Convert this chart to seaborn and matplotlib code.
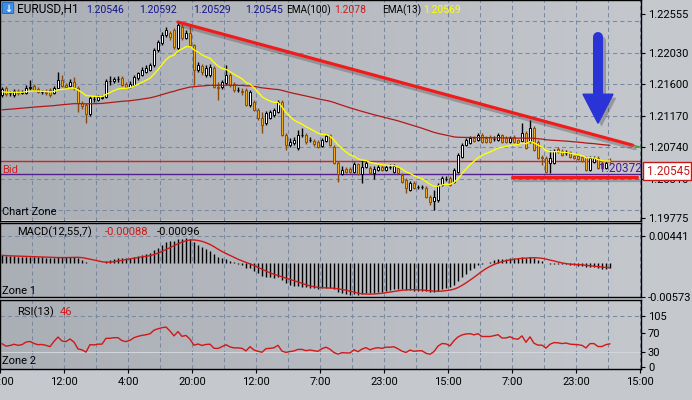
import numpy as np
import pandas as pd
import matplotlib
matplotlib.use("Agg")
import matplotlib.pyplot as plt
import seaborn as sns
import matplotlib.patheffects as pe
from matplotlib.colors import LinearSegmentedColormap
from matplotlib.patches import Rectangle, FancyBboxPatch

# ---------------- data (EURUSD H1) ----------------
open_ = [
    1.21450, 1.21545, 1.21477, 1.21450, 1.21504, 1.21477, 1.21477, 1.21545, 1.21573, 1.21532,
    1.21491, 1.21491, 1.21518, 1.21477, 1.21545, 1.21655, 1.21587, 1.21573, 1.21628, 1.21545,
    1.21340, 1.21313, 1.21189, 1.21395, 1.21381, 1.21408, 1.21422, 1.21641, 1.21641, 1.21669,
    1.21682, 1.21600, 1.21559, 1.21587, 1.21682, 1.21724, 1.21765, 1.21792, 1.21861, 1.22066,
    1.22162, 1.22272, 1.22299, 1.22340, 1.22093, 1.22381, 1.22230, 1.22299, 1.22135, 1.21792,
    1.21847, 1.21724, 1.21724, 1.21819, 1.21559, 1.21559, 1.21614, 1.21724, 1.21600, 1.21518,
    1.21504, 1.21518, 1.21313, 1.21354, 1.21244, 1.21134, 1.21066, 1.21134, 1.21176, 1.21217,
    1.21354, 1.20902, 1.20765, 1.20792, 1.20723, 1.20902, 1.20902, 1.20833, 1.20819, 1.20806,
    1.20751, 1.20819, 1.20902, 1.20737, 1.20518, 1.20367, 1.20436, 1.20436, 1.20395, 1.20504,
    1.20367, 1.20463, 1.20450, 1.20381, 1.20422, 1.20463, 1.20422, 1.20463, 1.20395, 1.20450,
    1.20354, 1.20285, 1.20148, 1.20244, 1.20189, 1.20189, 1.20176, 1.20052, 1.19998, 1.20011,
    1.20217, 1.20299, 1.20313, 1.20258, 1.20395, 1.20600, 1.20765, 1.20792, 1.20860, 1.20833,
    1.20902, 1.20860, 1.20874, 1.20847, 1.20833, 1.20902, 1.20860, 1.20806, 1.20874, 1.20833,
    1.20819, 1.20929, 1.20806, 1.20997, 1.20806, 1.20600, 1.20586, 1.20518, 1.20518, 1.20710,
    1.20682, 1.20655, 1.20669, 1.20614, 1.20614, 1.20600, 1.20600, 1.20422, 1.20532, 1.20586,
    1.20518, 1.20450, 1.20546]
high = [
    1.21559, 1.21573, 1.21504, 1.21532, 1.21532, 1.21518, 1.21587, 1.21655, 1.21600, 1.21559,
    1.21518, 1.21532, 1.21545, 1.21573, 1.21765, 1.21724, 1.21614, 1.21669, 1.21696, 1.21573,
    1.21367, 1.21340, 1.21436, 1.21436, 1.21450, 1.21450, 1.21669, 1.21710, 1.21696, 1.21710,
    1.21710, 1.21628, 1.21641, 1.21724, 1.21765, 1.21833, 1.21861, 1.21888, 1.22093, 1.22203,
    1.22313, 1.22381, 1.22326, 1.22367, 1.22450, 1.22422, 1.22340, 1.22408, 1.22148, 1.21902,
    1.21874, 1.21861, 1.21874, 1.21847, 1.21628, 1.21655, 1.21861, 1.21751, 1.21628, 1.21559,
    1.21545, 1.21545, 1.21518, 1.21381, 1.21271, 1.21217, 1.21230, 1.21244, 1.21271, 1.21381,
    1.21381, 1.20929, 1.20860, 1.20874, 1.20970, 1.20997, 1.20929, 1.20874, 1.20847, 1.20833,
    1.20860, 1.20915, 1.20915, 1.20765, 1.20545, 1.20477, 1.20463, 1.20463, 1.20532, 1.20518,
    1.20559, 1.20559, 1.20477, 1.20477, 1.20491, 1.20491, 1.20491, 1.20504, 1.20504, 1.20477,
    1.20381, 1.20313, 1.20271, 1.20271, 1.20217, 1.20217, 1.20203, 1.20080, 1.20148, 1.20244,
    1.20340, 1.20340, 1.20340, 1.20450, 1.20655, 1.20792, 1.20860, 1.20888, 1.20888, 1.20929,
    1.20929, 1.20888, 1.20902, 1.20888, 1.20929, 1.20915, 1.20888, 1.20888, 1.20902, 1.20847,
    1.21066, 1.20956, 1.21107, 1.21025, 1.20833, 1.20628, 1.20614, 1.20696, 1.20710, 1.20737,
    1.20710, 1.20696, 1.20682, 1.20628, 1.20628, 1.20614, 1.20614, 1.20614, 1.20614, 1.20614,
    1.20545, 1.20545, 1.20592]
low = [
    1.21422, 1.21436, 1.21436, 1.21422, 1.21450, 1.21463, 1.21463, 1.21518, 1.21504, 1.21477,
    1.21463, 1.21450, 1.21422, 1.21463, 1.21532, 1.21559, 1.21545, 1.21559, 1.21518, 1.21217,
    1.21258, 1.21066, 1.21162, 1.21354, 1.21367, 1.21395, 1.21408, 1.21587, 1.21614, 1.21628,
    1.21573, 1.21545, 1.21545, 1.21573, 1.21655, 1.21710, 1.21751, 1.21778, 1.21833, 1.22039,
    1.22135, 1.22244, 1.22203, 1.22080, 1.22066, 1.22203, 1.22217, 1.22107, 1.21587, 1.21765,
    1.21724, 1.21696, 1.21696, 1.21545, 1.21381, 1.21532, 1.21587, 1.21559, 1.21491, 1.21491,
    1.21450, 1.21299, 1.21285, 1.21230, 1.21107, 1.20929, 1.21039, 1.21121, 1.21148, 1.21203,
    1.20888, 1.20696, 1.20737, 1.20765, 1.20696, 1.20874, 1.20778, 1.20806, 1.20751, 1.20723,
    1.20737, 1.20806, 1.20751, 1.20504, 1.20258, 1.20354, 1.20381, 1.20381, 1.20381, 1.20354,
    1.20244, 1.20450, 1.20367, 1.20299, 1.20408, 1.20408, 1.20408, 1.20436, 1.20381, 1.20367,
    1.20244, 1.20107, 1.20134, 1.20162, 1.20162, 1.20162, 1.20039, 1.19943, 1.19874, 1.19984,
    1.20203, 1.20271, 1.20203, 1.20244, 1.20381, 1.20586, 1.20751, 1.20778, 1.20806, 1.20819,
    1.20792, 1.20792, 1.20792, 1.20819, 1.20819, 1.20792, 1.20792, 1.20792, 1.20792, 1.20778,
    1.20806, 1.20710, 1.20792, 1.20682, 1.20573, 1.20491, 1.20381, 1.20381, 1.20504, 1.20655,
    1.20614, 1.20628, 1.20586, 1.20573, 1.20559, 1.20532, 1.20408, 1.20408, 1.20518, 1.20436,
    1.20436, 1.20436, 1.20529]
close_ = [
    1.21532, 1.21463, 1.21477, 1.21504, 1.21477, 1.21491, 1.21545, 1.21559, 1.21518, 1.21491,
    1.21495, 1.21477, 1.21450, 1.21545, 1.21655, 1.21573, 1.21559, 1.21628, 1.21559, 1.21340,
    1.21299, 1.21189, 1.21408, 1.21395, 1.21422, 1.21422, 1.21641, 1.21641, 1.21669, 1.21669,
    1.21587, 1.21559, 1.21600, 1.21696, 1.21751, 1.21792, 1.21819, 1.21861, 1.22066, 1.22176,
    1.22272, 1.22340, 1.22244, 1.22107, 1.22408, 1.22230, 1.22299, 1.22135, 1.21792, 1.21861,
    1.21765, 1.21819, 1.21833, 1.21559, 1.21545, 1.21628, 1.21724, 1.21587, 1.21518, 1.21518,
    1.21491, 1.21313, 1.21491, 1.21244, 1.21134, 1.21039, 1.21203, 1.21217, 1.21244, 1.21354,
    1.20902, 1.20765, 1.20806, 1.20833, 1.20902, 1.20902, 1.20806, 1.20833, 1.20778, 1.20737,
    1.20833, 1.20888, 1.20765, 1.20518, 1.20367, 1.20422, 1.20395, 1.20395, 1.20504, 1.20367,
    1.20463, 1.20518, 1.20381, 1.20436, 1.20463, 1.20422, 1.20463, 1.20463, 1.20477, 1.20381,
    1.20258, 1.20176, 1.20244, 1.20176, 1.20189, 1.20189, 1.20052, 1.19984, 1.20052, 1.20217,
    1.20313, 1.20299, 1.20217, 1.20422, 1.20628, 1.20765, 1.20833, 1.20860, 1.20819, 1.20902,
    1.20806, 1.20806, 1.20806, 1.20847, 1.20902, 1.20806, 1.20806, 1.20860, 1.20806, 1.20792,
    1.20929, 1.20723, 1.20997, 1.20696, 1.20586, 1.20586, 1.20395, 1.20586, 1.20682, 1.20669,
    1.20628, 1.20655, 1.20600, 1.20586, 1.20573, 1.20545, 1.20422, 1.20586, 1.20586, 1.20450,
    1.20450, 1.20518, 1.20545]

time_labels = ["20:00", "12:00", "4:00", "20:00", "12:00", "7:00",
               "23:00", "15:00", "7:00", "23:00", "15:00"]
price_ticks = [1.22555, 1.22030, 1.21600, 1.21170, 1.20740, 1.20310, 1.19775]
price_grid = [1.19880, 1.20310, 1.20740, 1.21170, 1.21600, 1.22030, 1.22460]
macd_ticks = [0.00441, -0.00573]
rsi_ticks = [0, 30, 70, 105]

# indicator starting values read at the left edge of the chart
ema100_start = 1.21244
ema13_start = 1.21490
macd_fast_start = 1.21500
macd_slow_start = 1.21380
rsi_gain_start = 0.00025
rsi_loss_start = 0.00027

bid_level = 1.20545
line2_level = 1.20372
trend_x = [44.0, 157.75]
trend_y = [1.22450, 1.20765]
trend_ext_x = [157.75, 159.75]
trend_ext_y = [1.20765, 1.20737]
support_x = [127.5, 158.75]
support_y = [1.20333, 1.20333]
arrow_x = 149.0
arrow_top = 1.22244
arrow_head_base = 1.21463
arrow_tip = 1.21066

hdr_ema100 = "1.2078"
hdr_ema13 = "1.20569"
hdr_macd = ["-0.00088", "-0.00096"]
hdr_rsi = "46"

# ---------------- computations ----------------
n = len(close_)
xi = np.arange(n)
o = np.array(open_); h = np.array(high); l = np.array(low); c = np.array(close_)
cs = pd.Series(c)

def ema(series, span, start):
    s = pd.concat([pd.Series([start]), series], ignore_index=True)
    return s.ewm(span=span, adjust=False).mean().iloc[1:].to_numpy()

ema100 = ema(cs, 100, ema100_start)
ema13 = ema(cs, 13, ema13_start)
macd = ema(cs, 12, macd_fast_start) - ema(cs, 55, macd_slow_start)
signal = pd.Series(macd).rolling(7, min_periods=1).mean().to_numpy()
ag, al = rsi_gain_start, rsi_loss_start
rsi = []
for i in range(n):
    d = c[i] - c[i - 1] if i > 0 else 0.0
    ag = (ag * 12 + max(d, 0)) / 13
    al = (al * 12 + max(-d, 0)) / 13
    rsi.append(100 - 100 / (1 + ag / al))
rsi = np.array(rsi)

# ---------------- figure ----------------
sns.set_theme(style="white")
plt.rcParams["font.family"] = ["Roboto", "DejaVu Sans"]
plt.rcParams["axes.unicode_minus"] = False

W, H = 692, 400
fig = plt.figure(figsize=(W / 100, H / 100), dpi=100, facecolor="#c5c8cc")

def ax_px(x0, y0, x1, y1):
    return fig.add_axes([x0 / W, 1 - y1 / H, (x1 - x0) / W, (y1 - y0) / H])

def ftext(x, y, s, **kw):
    kw.setdefault("fontsize", 8)
    kw.setdefault("va", "baseline")
    kw.setdefault("ha", "left")
    return fig.text(x / W, 1 - y / H, s, **kw)

ax = ax_px(0, 0, 641, 220.5)
axm = ax_px(0, 223, 641, 297)
axr = ax_px(0, 300, 641, 369)

bg = LinearSegmentedColormap.from_list("bg", ["#aaaeb5", "#c4c7cc"])
grad = np.linspace(0, 1, 256).reshape(1, -1)
grid_kw = dict(color="#7b89a0", lw=0.75, ls=(0, (4, 3)), zorder=1)
xlim = (-0.5, 159.75)
grid_x = np.arange(7.5, 159.75, 8)

for a in (ax, axm, axr):
    a.imshow(grad, extent=(0, 1, 0, 1), transform=a.transAxes, aspect="auto",
             cmap=bg, zorder=0)
    for gx in grid_x:
        a.axvline(gx, **grid_kw)
    for s in a.spines.values():
        s.set_color("black"); s.set_linewidth(1.0); s.set_visible(True)
    a.set_xlim(*xlim)
    a.yaxis.tick_right()
    a.tick_params(axis="y", right=True, left=False, labelright=True, labelleft=False,
                  direction="out", length=3, width=0.8, pad=2, labelsize=8, colors="black")
    a.tick_params(axis="x", bottom=False, labelbottom=False)
    a.set_xlabel(""); a.set_ylabel("")

# ----- main price panel -----
for gy in price_grid:
    ax.axhline(gy, **grid_kw)
ax.axhline(bid_level, color="#d42020", lw=1, zorder=2)
ax.axhline(line2_level, color="#55208e", lw=1, zorder=2)

up = c >= o
wick_col = np.where(up, "black", "#8a4a10")
face = np.where(up, "white", "#f2ab1e")
edge = np.where(up, "black", "#8a4a10")
ax.vlines(xi, l, h, colors=wick_col, lw=1, zorder=3)
ax.bar(xi, np.abs(c - o), bottom=np.minimum(o, c), width=0.72, color=face,
       edgecolor=edge, linewidth=0.7, zorder=4)

sns.lineplot(x=xi, y=ema100, ax=ax, color="#b31818", lw=0.9, zorder=5)
sns.lineplot(x=xi, y=ema13, ax=ax, color="#ffff00", lw=1.0, zorder=5)

shadow = [pe.SimpleLineShadow(offset=(1.5, -2.5), shadow_color="#3a3a3a", alpha=0.3), pe.Normal()]
ax.plot(trend_x, trend_y, color="#f01c1c", lw=2.3, solid_capstyle="round",
        zorder=7, path_effects=shadow)
ax.plot(trend_ext_x, trend_ext_y, color="#3c9a3c", lw=1.0, zorder=7)
ax.plot(support_x, support_y, color="#f01c1c", lw=2.3, zorder=7, path_effects=shadow)

# blue arrow
half_w = 3.75
ax.plot([arrow_x, arrow_x], [arrow_top, arrow_head_base], color="#2a33d6", lw=7.2,
        solid_capstyle="round", zorder=8,
        path_effects=[pe.SimpleLineShadow(offset=(2.5, -2.5), shadow_color="#333", alpha=0.3), pe.Normal()])
ax.fill([arrow_x - half_w, arrow_x + half_w, arrow_x],
        [arrow_head_base, arrow_head_base, arrow_tip], color="#2a33d6", zorder=8,
        path_effects=[pe.SimplePatchShadow(offset=(2.5, -2.5), shadow_rgbFace="#333", alpha=0.3), pe.Normal()])

ax.set_ylim(1.19737, 1.22751)
ax.set_yticks(price_ticks)
ax.set_yticklabels([f"{v:.5f}" for v in price_ticks])

# ----- MACD panel -----
axm.axhline(macd_ticks[0], **grid_kw)
axm.vlines(xi, 0, macd, colors="black", lw=1, zorder=3)
sns.lineplot(x=xi, y=signal, ax=axm, color="#d01818", lw=1.0, zorder=4)
axm.set_ylim(-0.00573, 0.00657)
axm.set_yticks(macd_ticks)
axm.set_yticklabels([f"{v:.5f}" for v in macd_ticks])

# ----- RSI panel -----
axr.axhline(105, **grid_kw)
axr.axhline(30, color="#d2d5d9", lw=0.8, zorder=1)
sns.lineplot(x=xi, y=rsi, ax=axr, color="#d01818", lw=1.0, zorder=4)
axr.set_ylim(-4.1, 137.9)
axr.set_yticks(rsi_ticks)
axr.set_yticklabels([str(v) for v in rsi_ticks])
axr.set_xticks(np.arange(len(time_labels)) * 16 - 0.5)
axr.set_xticklabels(time_labels)
axr.tick_params(axis="x", bottom=True, labelbottom=True, direction="out",
                length=3, width=0.8, pad=3, labelsize=8, colors="black")
for a in (ax, axm, axr):
    a.set_xlim(*xlim)
    a.set_xlabel(""); a.set_ylabel("")

# ----- texts -----
icon = FancyBboxPatch((3 / W, 1 - 13 / H), 10 / W, 10 / H, boxstyle="round,pad=0.001",
                      transform=fig.transFigure, facecolor="#3d8ee8", edgecolor="#1d5fb0",
                      lw=0.6, zorder=10)
fig.add_artist(icon)
ftext(8, 11.5, "\u2193", color="white", fontsize=7, ha="center", weight="bold", zorder=11,
      family=["DejaVu Sans"])
ftext(17, 13, "EURUSD,H1", color="black", fontsize=8.6)
for xpos, v in zip([86, 139, 193, 245], [o[-1], h[-1], l[-1], c[-1]]):
    ftext(xpos, 13, f"{v:.5f}", color="#12128a", fontsize=7.5)
ftext(286, 13, "EMA(100)", color="black", fontsize=7.2)
ftext(334, 13, hdr_ema100, color="#d01818", fontsize=7.5)
ftext(382, 13, "EMA(13)", color="black", fontsize=7.2)
ftext(423, 13, hdr_ema13, color="#ffff00", fontsize=7.5)

ftext(2, 173, "Bid", color="#d42020")
ftext(2, 215, "Chart Zone", color="black")
ftext(599, 171.5, f"{line2_level:.5f}", color="#4d1a8a", fontsize=8.5)

fig.add_artist(Rectangle((643 / W, 1 - 180 / H), 48 / W, 18 / H, transform=fig.transFigure,
                         facecolor="white", edgecolor="#c41818", lw=1, zorder=10))
ftext(647, 175, f"{c[-1]:.5f}", color="#c41818", fontsize=8.5, zorder=11)

ftext(17, 235, "MACD(12,55,7)", color="black")
ftext(105, 235, hdr_macd[0], color="#d01818")
ftext(157, 235, hdr_macd[1], color="black")
ftext(2, 294, "Zone 1", color="black")

ftext(17, 315, "RSI(13)", color="black")
ftext(60, 315, hdr_rsi, color="#d01818")
ftext(2, 364, "Zone 2", color="black")

fig.savefig("out.png", dpi=100, facecolor=fig.get_facecolor())
